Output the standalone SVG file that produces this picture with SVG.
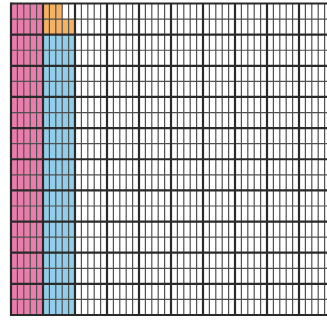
<svg xmlns="http://www.w3.org/2000/svg" width="327" height="323" viewBox="0 0 327 323">
<style>
.thin{fill:none;stroke:#505050;stroke-width:1.2}
.thick{fill:none;stroke:#2a2a2a;stroke-width:2.2}
.pink{fill:#e97dab}
.blue{fill:#92cdea}
.orange{fill:#f5b263}
</style>
<rect x="0" y="0" width="327" height="323" fill="#ffffff"/>
<g id="fills">
<rect id="pink-column" class="pink" x="11" y="3.5" width="32" height="311.5"/>
<rect id="orange-row1" class="orange" x="43" y="3.5" width="19.2" height="15.575"/>
<rect id="orange-row2" class="orange" x="43" y="19.075" width="32" height="15.575"/>
<rect id="blue-column" class="blue" x="43" y="34.65" width="32" height="280.35"/>
</g>
<g id="grid">
<path class="thin" d="M17.4 3.5V315M23.8 3.5V315M30.2 3.5V315M36.6 3.5V315M49.4 3.5V315M55.8 3.5V315M62.2 3.5V315M68.6 3.5V315M81.4 3.5V315M87.8 3.5V315M94.2 3.5V315M100.6 3.5V315M113.4 3.5V315M119.8 3.5V315M126.2 3.5V315M132.6 3.5V315M145.4 3.5V315M151.8 3.5V315M158.2 3.5V315M164.6 3.5V315M177.4 3.5V315M183.8 3.5V315M190.2 3.5V315M196.6 3.5V315M209.4 3.5V315M215.8 3.5V315M222.2 3.5V315M228.6 3.5V315M241.4 3.5V315M247.8 3.5V315M254.2 3.5V315M260.6 3.5V315M273.4 3.5V315M279.8 3.5V315M286.2 3.5V315M292.6 3.5V315M305.4 3.5V315M311.8 3.5V315M318.2 3.5V315M324.6 3.5V315"/>
<path class="thin" d="M11 19.075H327M11 50.225H327M11 81.375H327M11 112.525H327M11 143.675H327M11 174.825H327M11 205.975H327M11 237.125H327M11 268.275H327M11 299.425H327"/>
<path class="thick" d="M11 2.4V316.1M43 3.5V315M75 3.5V315M107 3.5V315M139 3.5V315M171 3.5V315M203 3.5V315M235 3.5V315M267 3.5V315M299 3.5V315"/>
<path class="thick" d="M11 3.5H327M11 34.65H327M11 65.8H327M11 96.95H327M11 128.1H327M11 159.25H327M11 190.4H327M11 221.55H327M11 252.7H327M11 283.85H327M11 315H327"/>
</g>
</svg>
